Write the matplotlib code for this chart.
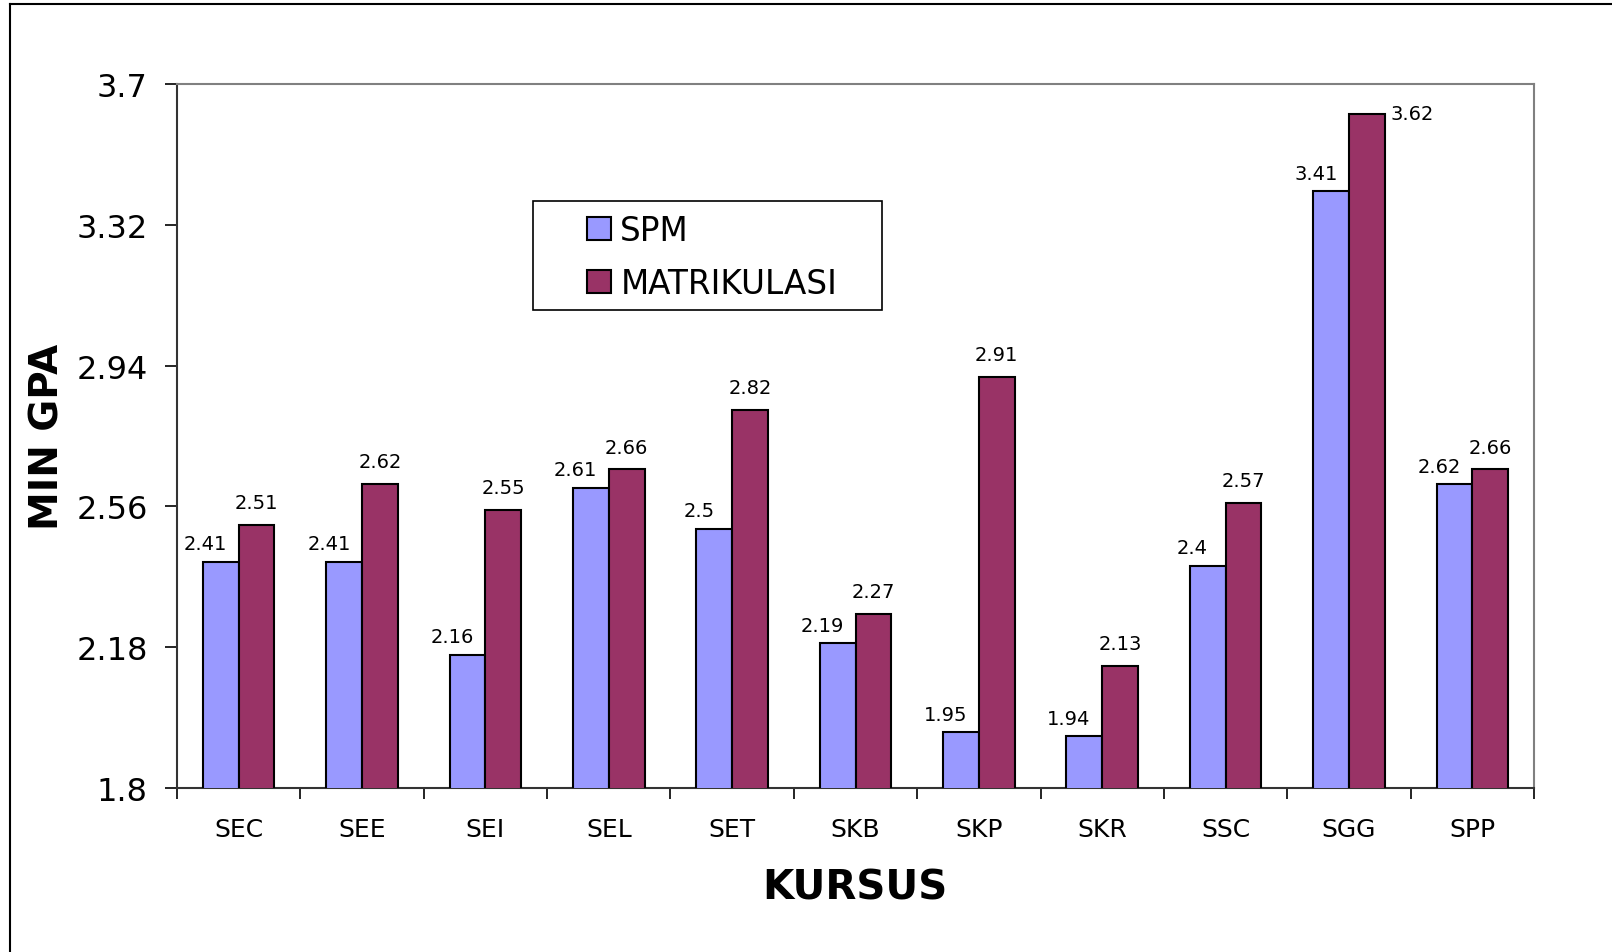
import matplotlib
matplotlib.use("Agg")
import matplotlib.pyplot as plt
import numpy as np
from matplotlib.lines import Line2D
from matplotlib.patches import Rectangle

courses = ["SEC", "SEE", "SEI", "SEL", "SET", "SKB", "SKP", "SKR", "SSC", "SGG", "SPP"]
spm = [2.41, 2.41, 2.16, 2.61, 2.50, 2.19, 1.95, 1.94, 2.40, 3.41, 2.62]
matrik = [2.51, 2.62, 2.55, 2.66, 2.82, 2.27, 2.91, 2.13, 2.57, 3.62, 2.66]
spm_labels = ["2.41", "2.41", "2.16", "2.61", "2.5", "2.19", "1.95", "1.94", "2.4", "3.41", "2.62"]
matrik_labels = ["2.51", "2.62", "2.55", "2.66", "2.82", "2.27", "2.91", "2.13", "2.57", "3.62", "2.66"]
yticks = [1.8, 2.18, 2.56, 2.94, 3.32, 3.7]
ytick_labels = ["1.8", "2.18", "2.56", "2.94", "3.32", "3.7"]

W, H = 1612, 953
fig = plt.figure(figsize=(W / 100, H / 100), dpi=100)
plt.rcParams["font.family"] = ["DejaVu Sans"]

ax = fig.add_axes([177 / W, 1 - 789 / H, (1534 - 177) / W, (789 - 85) / H])

x = np.arange(len(courses))
bw = 0.29
ax.bar(x - bw / 2, spm, bw, color="#9999FF", edgecolor="black", linewidth=1.5, label="SPM", zorder=3)
ax.bar(x + bw / 2, matrik, bw, color="#993366", edgecolor="black", linewidth=1.5, label="MATRIKULASI", zorder=3)

ymax = 3.7
for i in range(len(courses)):
    ax.annotate(spm_labels[i], (x[i] - bw / 2, spm[i]), xytext=(-11, 13), textcoords="offset points",
                ha="center", va="center", fontsize=14)
    if matrik[i] > ymax - 0.15:
        # no room above: put the label beside the bar top
        ax.annotate(matrik_labels[i], (x[i] + bw, matrik[i]), xytext=(4, 0), textcoords="offset points",
                    ha="left", va="center", fontsize=14)
    else:
        ax.annotate(matrik_labels[i], (x[i] + bw / 2, matrik[i]), xytext=(0, 16), textcoords="offset points",
                    ha="center", va="center", fontsize=14)

ax.set_xlim(-0.5, len(courses) - 0.5)
ax.set_ylim(1.8, ymax)
ax.set_yticks(yticks)
ax.set_yticklabels(ytick_labels, fontsize=23)
ax.set_xticks(np.arange(-0.5, len(courses), 1.0))
ax.set_xticklabels([])
ax.set_xticks(x, minor=True)
ax.set_xticklabels(courses, minor=True, fontsize=18)
ax.tick_params(axis="x", which="minor", length=0, pad=21)
ax.tick_params(axis="x", which="major", length=8, width=1.2, direction="out")
ax.tick_params(axis="y", length=9, width=1.2, direction="out", pad=12)

for s in ["top", "right"]:
    ax.spines[s].set_color("#808080")
    ax.spines[s].set_linewidth(1.5)
for s in ["left", "bottom"]:
    ax.spines[s].set_color("#333333")
    ax.spines[s].set_linewidth(1.5)

fig.text(48 / W, 1 - 437 / H, "MIN GPA", rotation=90, ha="center", va="center", fontsize=28, fontweight="bold")
fig.text(855 / W, 1 - 889 / H, "KURSUS", ha="center", va="center", fontsize=29, fontweight="bold")

# legend box (Excel style, wide left padding)
fig.add_artist(Rectangle((533 / W, 1 - 311 / H), (882 - 533) / W, (311 - 202) / H, transform=fig.transFigure,
                         facecolor="white", edgecolor="black", linewidth=1.2, zorder=4))
leg = fig.legend(loc="center left", bbox_to_anchor=(587 / W, 1 - 258 / H),
                 fontsize=23.5, frameon=False, handlelength=0.72, handleheight=0.72,
                 handletextpad=0.3, borderpad=0, labelspacing=0.62, borderaxespad=0)
leg.set_zorder(5)

# outer chart border (left and top)
fig.add_artist(Line2D([10 / W, 10 / W], [0, 1 - 5 / H], color="black", linewidth=1.5))
fig.add_artist(Line2D([10 / W, 1], [1 - 5 / H, 1 - 5 / H], color="black", linewidth=1.5))

fig.savefig("out.png", dpi=100)
